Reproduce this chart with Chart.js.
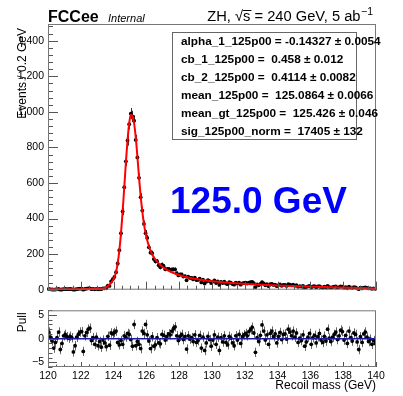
<!DOCTYPE html>
<html>
<head>
<meta charset="utf-8">
<script src="https://cdn.jsdelivr.net/npm/chart.js@4.4.1/dist/chart.umd.min.js"></script>
<style>
  html, body { margin: 0; padding: 0; background: #fff; }
  body { width: 403px; height: 396px; position: relative; overflow: hidden; }
  canvas { position: absolute; left: 0; }
  #mainChart { top: 0; }
  #pullChart { top: 300px; }
</style>
</head>
<body>
<canvas id="mainChart" width="403" height="300"></canvas>
<canvas id="pullChart" width="403" height="96"></canvas>
<script>
// histogram binning (recoil mass, GeV)
const xMin = 120;
const xMax = 140;
const binWidth = 0.1;

// events per bin
const events = [
  4, 2, 1, 0, 1, 2, 4, 0, 1, 3,
  4, 3, 3, 4, 3, 0, 1, 3, 5, 6,
  6, 0, 4, 6, 8, 8, 3, 5, 2, 5,
  2, 4, 3, 8, 8, 8, 23, 21, 46, 59,
  72, 98, 148, 222, 318, 440, 576, 722, 839, 931,
  990, 975, 950, 842, 744, 629, 520, 445, 370, 318,
  291, 238, 208, 205, 172, 160, 160, 137, 126, 141,
  132, 115, 116, 117, 110, 114, 114, 114, 93, 80,
  86, 86, 74, 76, 53, 74, 66, 67, 58, 68,
  54, 55, 62, 41, 56, 35, 45, 54, 48, 37,
  45, 52, 37, 46, 27, 44, 37, 45, 35, 31,
  42, 39, 32, 28, 40, 34, 40, 28, 36, 38,
  39, 35, 40, 42, 44, 37, 14, 30, 25, 32,
  43, 36, 25, 31, 20, 31, 33, 27, 29, 20,
  26, 30, 22, 27, 27, 21, 31, 28, 24, 28,
  22, 25, 16, 20, 17, 22, 12, 15, 19, 22,
  12, 18, 20, 13, 18, 20, 14, 12, 17, 13,
  22, 15, 12, 15, 17, 18, 12, 15, 19, 17,
  11, 14, 8, 17, 12, 9, 14, 13, 8, 3,
  11, 7, 12, 13, 10, 7, 8, 5, 7, 5
];

// fitted model evaluated at the bin centres
const fitCurve = [
  2.0, 2.0, 2.1, 2.1, 2.2, 2.2, 2.3, 2.3, 2.4, 2.4,
  2.5, 2.5, 2.6, 2.7, 2.7, 2.8, 2.9, 3.0, 3.0, 3.1,
  3.2, 3.3, 3.4, 3.5, 3.7, 3.8, 4.0, 4.2, 4.4, 4.7,
  5.0, 5.6, 6.6, 8.2, 10.5, 14.5, 20.5, 29, 39, 52,
  70, 100, 150, 220, 318, 440, 575, 715, 840, 935,
  982, 978, 935, 858, 750, 633, 527, 440, 370, 318,
  278, 246, 220, 199, 183, 169, 158, 148, 139, 131,
  124, 118, 112, 107, 102, 98, 94, 90, 87, 84,
  81, 78, 75.5, 73, 71, 69, 67, 65, 63, 61.5,
  60, 58.5, 57, 55.5, 54.2, 53, 51.8, 50.6, 49.5, 48.4,
  47.4, 46.4, 45.4, 44.5, 43.6, 42.7, 41.9, 41.1, 40.3, 39.5,
  38.8, 38.1, 37.4, 36.7, 36.1, 35.5, 34.9, 34.3, 33.7, 33.1,
  32.6, 32.0, 31.5, 31.0, 30.5, 30.0, 29.5, 29.0, 28.6, 28.1,
  27.7, 27.2, 26.8, 26.4, 26.0, 25.6, 25.2, 24.8, 24.4, 24.0,
  23.7, 23.3, 22.9, 22.6, 22.2, 21.9, 21.5, 21.2, 20.9, 20.5,
  20.2, 19.9, 19.6, 19.3, 19.0, 18.7, 18.4, 18.1, 17.8, 17.5,
  17.2, 16.9, 16.7, 16.4, 16.1, 15.8, 15.6, 15.3, 15.0, 14.8,
  14.5, 14.2, 14.0, 13.7, 13.5, 13.2, 13.0, 12.7, 12.5, 12.2,
  12.0, 11.7, 11.5, 11.3, 11.0, 10.8, 10.6, 10.3, 10.1, 9.9,
  9.7, 9.4, 9.2, 9.0, 8.8, 8.6, 8.4, 8.2, 8.0, 7.8
];

// (data - fit) / error per bin
const pulls = [
  1.4, 0.3, -0.5, -2.0, -0.8, 0.2, 1.4, -2.3, -1.0, 0.6,
  0.9, 0.4, 0.1, 0.5, 0.2, -2.8, -1.5, 0.3, 0.9, 1.4,
  1.5, -2.7, 0.6, 1.3, 2.0, 2.2, -0.4, 0.2, -1.2, 0.3,
  -1.5, -0.6, -1.8, -0.3, -0.9, -1.7, 0.5, -1.4, 1.2, 1.0,
  1.3, 1.6, -0.8, -1.3, -0.4, -1.2, 0.6, 0.3, 1.1, 0.9,
  -0.2, -1.6, 3.0, -1.5, -0.6, -1.2, -2.1, 1.6, 1.1, 3.0,
  0.8, -0.5, -2.1, 0.4, -1.6, -1.3, 0.2, -0.9, -1.1, 0.9,
  0.7, -0.3, 0.4, 1.0, 0.8, 1.6, 2.1, 2.5, 0.6, -0.4,
  0.5, 0.9, -0.2, 0.4, -2.2, 0.6, -0.1, 0.2, -0.6, 0.8,
  -0.8, -0.4, 0.7, -2.0, 0.3, -2.5, -0.9, 0.5, -0.2, -1.6,
  -0.3, 0.8, -1.2, 0.3, -2.5, 0.2, -0.7, 0.6, -0.8, -1.3,
  0.5, 0.1, -0.9, -1.5, 0.6, -0.3, 0.9, -1.0, 0.4, 0.8,
  1.1, 0.6, 1.5, 1.9, 2.4, 1.2, -2.9, 0.2, -0.6, 0.7,
  2.9, 1.6, -0.3, 0.8, -1.2, 1.1, 1.6, 0.4, 1.0, -0.9,
  0.5, 1.3, -0.2, 0.9, 1.0, -0.1, 2.0, 1.4, 0.6, 1.6,
  0.3, 1.2, -0.8, 0.1, -0.4, 0.8, -1.6, -0.7, 0.3, 1.1,
  -1.2, 0.2, 0.7, -0.9, 0.4, 1.1, -0.3, -0.8, 0.5, -0.5,
  2.0, 0.1, -0.6, 0.3, 0.9, 1.4, -0.2, 0.6, 1.8, 1.5,
  -0.3, 0.7, -1.0, 1.6, 0.2, -0.5, 1.2, 0.9, -0.7, -2.3,
  0.4, -0.8, 1.0, 1.4, 0.3, -0.6, -0.1, -1.2, -0.4, -1.0
];

// axis ranges and tick spacing
const eventsMax = 1494;
const eventsStep = 200;
const pullRange = [-6, 6];
const pullStep = 5;
const massStep = 2;

// fit results shown in the parameter box
const paramNames = ['alpha_1_125p00', 'cb_1_125p00', 'cb_2_125p00', 'mean_125p00', 'mean_gt_125p00', 'sig_125p00_norm'];
const paramValues = ['-0.14327', ' 0.458', ' 0.4114', ' 125.0864', ' 125.426', ' 17405'];
const paramErrors = ['0.0054', '0.012', '0.0082', '0.0066', '0.046', '132'];

const massLabel = '125.0 GeV';

const fontFamily = '"Liberation Sans", Arial, Helvetica, sans-serif';
const binCentres = events.map((_, i) => xMin + (i + 0.5) * binWidth);

// ROOT-style frame with inward ticks on the left and bottom
const frameTicks = {
  id: 'frameTicks',
  afterDatasetsDraw(chart, args, o) {
    const { ctx, chartArea: a, scales: { x, y } } = chart;
    ctx.save();
    ctx.strokeStyle = '#555';
    ctx.lineWidth = 1;
    ctx.beginPath();
    for (let k = 0; xMin + k * o.xMinor <= xMax + 1e-9; k++) {
      const v = xMin + k * o.xMinor;
      const px = Math.round(x.getPixelForValue(v)) + 0.5;
      const len = k % o.xSub === 0 ? o.xLen : o.xLen / 2;
      ctx.moveTo(px, a.bottom);
      ctx.lineTo(px, a.bottom - len);
    }
    const k0 = Math.ceil(y.min / o.yMinor - 1e-9);
    for (let k = k0; k * o.yMinor <= y.max + 1e-9; k++) {
      const v = k * o.yMinor;
      const py = Math.round(y.getPixelForValue(v)) + 0.5;
      const len = k % o.ySub === 0 ? o.yLen : o.yLen / 2;
      ctx.moveTo(a.left, py);
      ctx.lineTo(a.left + len, py);
    }
    ctx.stroke();
    ctx.strokeStyle = '#777';
    ctx.strokeRect(a.left + 0.5, a.top + 0.5, a.right - a.left - 1, a.bottom - a.top - 1);
    ctx.restore();
  }
};

// vertical error bars under the markers of one dataset
const errorBars = {
  id: 'errorBars',
  beforeDatasetsDraw(chart, args, o) {
    const { ctx, scales: { y } } = chart;
    const meta = chart.getDatasetMeta(o.datasetIndex);
    const ds = chart.data.datasets[o.datasetIndex];
    ctx.save();
    ctx.strokeStyle = o.color;
    ctx.lineWidth = 1;
    ctx.beginPath();
    meta.data.forEach((pt, i) => {
      const v = ds.data[i].y;
      const err = o.errors[i];
      const px = Math.round(pt.x) + 0.5;
      ctx.moveTo(px, y.getPixelForValue(v + err));
      ctx.lineTo(px, y.getPixelForValue(v - err));
    });
    ctx.stroke();
    ctx.restore();
  }
};

const mainText = {
  id: 'mainText',
  afterDraw(chart) {
    const { ctx, chartArea: a } = chart;
    ctx.save();
    ctx.fillStyle = '#000';
    ctx.textBaseline = 'alphabetic';

    ctx.textAlign = 'left';
    ctx.font = 'bold 16px ' + fontFamily;
    ctx.fillText('FCCee', a.left, 22);
    ctx.font = 'italic 11px ' + fontFamily;
    ctx.fillText('Internal', a.left + 60, 22);

    // ZH, sqrt(s) = 240 GeV, 5 ab^-1 (right aligned)
    const base = 21;
    let xr = a.right - 3;
    ctx.textAlign = 'right';
    ctx.font = '10.5px ' + fontFamily;
    ctx.fillText('\u22121', xr, base - 6);
    xr -= ctx.measureText('\u22121').width + 0.5;
    ctx.font = '14.7px ' + fontFamily;
    const tail = ' = 240 GeV, 5 ab';
    ctx.fillText(tail, xr, base);
    xr -= ctx.measureText(tail).width;
    const sw = ctx.measureText('s').width;
    ctx.fillText('s', xr, base);
    ctx.fillRect(xr - sw, base - 11, sw + 1, 1);
    xr -= sw;
    ctx.fillText('ZH, \u221A', xr, base);

    // parameter box (the longer rows run past its right edge)
    const bx = a.left + 124, by = a.top + 8, bw = 184, bh = 107;
    ctx.fillStyle = '#fff';
    ctx.fillRect(bx, by, bw, bh);
    ctx.strokeStyle = '#666';
    ctx.lineWidth = 1;
    ctx.strokeRect(bx + 0.5, by + 0.5, bw, bh);
    ctx.fillStyle = '#000';
    ctx.textAlign = 'left';
    ctx.font = 'bold 11.8px ' + fontFamily;
    paramNames.forEach((name, i) => {
      ctx.fillText(name + ' = ' + paramValues[i] + ' \u00B1 ' + paramErrors[i], bx + 9, by + 13 + i * 17.9);
    });

    ctx.fillStyle = '#0000ff';
    ctx.font = 'bold 37px ' + fontFamily;
    ctx.fillText(massLabel, a.left + 122, 213);

    // y axis title, aligned to the top of the frame
    ctx.fillStyle = '#000';
    ctx.font = '12px ' + fontFamily;
    ctx.translate(26, a.top + 4);
    ctx.rotate(-Math.PI / 2);
    ctx.textAlign = 'right';
    ctx.fillText('Events / 0.2 GeV', 0, 0);
    ctx.restore();
  }
};

const pullText = {
  id: 'pullText',
  afterDraw(chart) {
    const { ctx, chartArea: a } = chart;
    ctx.save();
    ctx.fillStyle = '#000';
    ctx.font = '12px ' + fontFamily;
    ctx.textAlign = 'right';
    ctx.fillText('Recoil mass (GeV)', a.right, 89);
    ctx.translate(26, a.top + 2);
    ctx.rotate(-Math.PI / 2);
    ctx.fillText('Pull', 0, 0);
    ctx.restore();
  }
};

const tickFont = { family: fontFamily, size: 10.5 };

new Chart(document.getElementById('mainChart'), {
  type: 'scatter',
  data: {
    datasets: [
      {
        label: 'fit',
        data: binCentres.map((x, i) => ({ x, y: fitCurve[i] })),
        showLine: true,
        borderColor: '#ff0000',
        borderWidth: 2,
        pointRadius: 0,
        tension: 0.3
      },
      {
        label: 'data',
        data: binCentres.map((x, i) => ({ x, y: events[i] })),
        backgroundColor: '#000',
        borderColor: '#000',
        pointRadius: 1.9,
        borderWidth: 0,
        clip: 4
      }
    ]
  },
  options: {
    responsive: false,
    animation: false,
    layout: { padding: { left: 0, right: 27, top: 24, bottom: 6 } },
    plugins: {
      legend: { display: false },
      tooltip: { enabled: false },
      errorBars: { datasetIndex: 1, errors: events.map(v => Math.sqrt(v)), color: '#333' },
      frameTicks: { xMinor: 0.5, xSub: 4, xLen: 8, yMinor: 40, ySub: 5, yLen: 10 }
    },
    scales: {
      x: { type: 'linear', min: xMin, max: xMax, display: false },
      y: {
        min: 0,
        max: eventsMax,
        grid: { display: false, drawTicks: false },
        border: { display: false },
        ticks: { stepSize: eventsStep, includeBounds: false, padding: 4, color: '#000', font: tickFont },
        afterFit(s) { s.width = 48; }
      }
    }
  },
  plugins: [errorBars, frameTicks, mainText]
});

new Chart(document.getElementById('pullChart'), {
  type: 'scatter',
  data: {
    datasets: [
      {
        label: 'zero',
        data: [{ x: xMin, y: 0 }, { x: xMax, y: 0 }],
        showLine: true,
        borderColor: '#1a1aa6',
        borderWidth: 1.5,
        pointRadius: 0
      },
      {
        label: 'pull',
        data: binCentres.map((x, i) => ({ x, y: pulls[i] })),
        backgroundColor: '#000',
        pointRadius: 1.9,
        borderWidth: 0
      }
    ]
  },
  options: {
    responsive: false,
    animation: false,
    layout: { padding: { left: 0, right: 27, top: 8, bottom: 0 } },
    plugins: {
      legend: { display: false },
      tooltip: { enabled: false },
      errorBars: { datasetIndex: 1, errors: pulls.map(() => 1), color: '#666' },
      frameTicks: { xMinor: 0.5, xSub: 4, xLen: 5, yMinor: 1, ySub: 5, yLen: 9 }
    },
    scales: {
      x: {
        type: 'linear',
        min: xMin,
        max: xMax,
        grid: { display: false, drawTicks: false },
        border: { display: false },
        ticks: { stepSize: massStep, padding: 3, color: '#000', font: tickFont, maxRotation: 0 },
        afterFit(s) { s.height = 29; }
      },
      y: {
        min: pullRange[0],
        max: pullRange[1],
        grid: { display: false, drawTicks: false },
        border: { display: false },
        ticks: {
          stepSize: pullStep,
          includeBounds: false,
          padding: 4,
          color: '#000',
          font: tickFont,
          callback: v => String(v).replace('-', '\u2212')
        },
        afterFit(s) { s.width = 48; }
      }
    }
  },
  plugins: [errorBars, frameTicks, pullText]
});
</script>
</body>
</html>
